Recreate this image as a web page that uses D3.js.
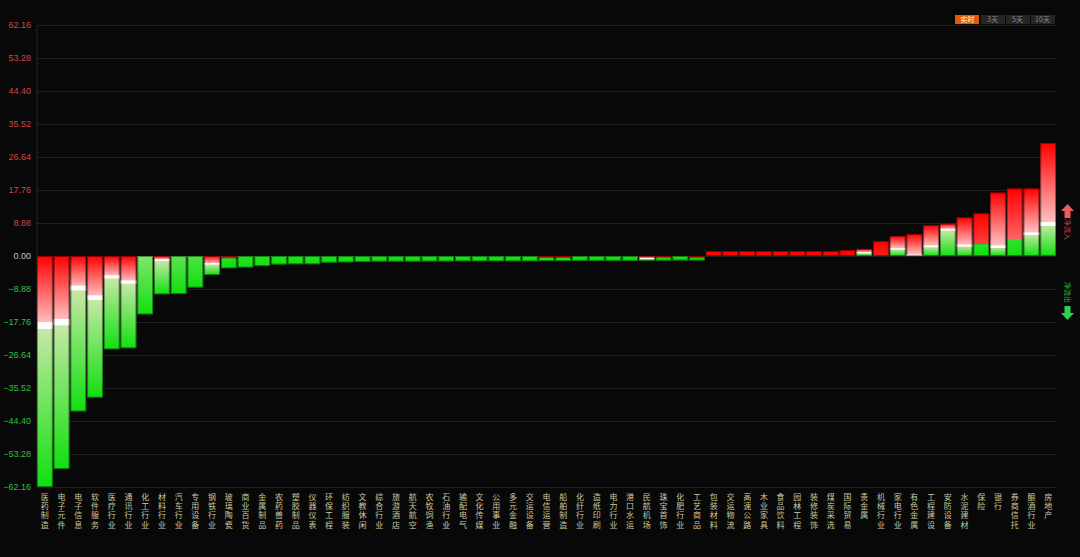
<!DOCTYPE html>
<html lang="zh">
<head>
<meta charset="utf-8">
<title>板块资金流</title>
<script src="https://d3js.org/d3.v7.min.js"></script>
<style>
  html, body { margin: 0; padding: 0; background: #080808; }
  svg { display: block; }
</style>
</head>
<body>
<div id="chart"></div>
<script>
// industries, sorted by net flow
const categories = ["医药制造","电子元件","电子信息","软件服务","医疗行业","通讯行业","化工行业","材料行业","汽车行业","专用设备",
  "钢铁行业","玻璃陶瓷","商业百货","金属制品","农药兽药","塑胶制品","仪器仪表","环保工程","纺织服装","文教休闲",
  "综合行业","旅游酒店","航天航空","农牧饲渔","石油行业","输配电气","文化传媒","公用事业","多元金融","交运设备",
  "电信运营","船舶制造","化纤行业","造纸印刷","电力行业","港口水运","民航机场","珠宝首饰","化肥行业","工艺商品",
  "包装材料","交运物流","高速公路","木业家具","食品饮料","园林工程","装修装饰","煤炭采选","国际贸易","贵金属",
  "机械行业","家电行业","有色金属","工程建设","安防设备","水泥建材","保险","银行","券商信托","酿酒行业","房地产"];

// bar value (net)
const values = [-62.16,-57.3,-41.8,-38.1,-25.1,-24.8,-15.7,-10.3,-10.2,-8.5,
  -5.1,-3.3,-3.1,-2.7,-2.3,-2.2,-2.2,-1.8,-1.7,-1.6,
  -1.5,-1.5,-1.5,-1.45,-1.45,-1.4,-1.4,-1.4,-1.4,-1.4,
  -1.35,-1.35,-1.3,-1.3,-1.3,-1.3,-1.25,-1.25,-1.2,-1.2,
  1.35,1.35,1.35,1.35,1.35,1.35,1.35,1.35,1.6,1.9,
  4.0,5.4,5.9,8.3,8.7,10.4,11.5,17.1,18.2,18.2,30.4];

// where the red part ends and the green part starts (0 = one colour only)
const splits = [-18.7,-17.8,-8.6,-11.2,-5.6,-7.0,0,-1.1,0,0,
  -2.1,-0.6,0,0,0,0,0,0,0,0,
  0,0,0,0,0,0,0,0,0,0,
  -0.45,-0.45,0,0,0,0,-0.7,-0.4,0,-0.5,
  0,0,0,0,0,0,0,0,0,0.9,
  0,1.9,0.2,2.6,7.1,2.8,3.2,2.5,4.3,6.0,8.6];

// white separator shown?
const bands = [1,1,1,1,1,1,0,1,0,0,
  1,0,0,0,0,0,0,0,0,0,
  0,0,0,0,0,0,0,0,0,0,
  0,0,0,0,0,0,1,0,0,0,
  0,0,0,0,0,0,0,0,0,1,
  0,1,1,1,1,1,0,1,0,1,1];

const yTicks = [62.16,53.28,44.40,35.52,26.64,17.76,8.88,0,-8.88,-17.76,-26.64,-35.52,-44.40,-53.28,-62.16];
const buttons = ["实时","3天","5天","10天"];

const W = 1080, H = 557;
const margin = {top: 25, right: 24, bottom: 70, left: 37};
const width = W - margin.left - margin.right,
      height = H - margin.top - margin.bottom;

const svg = d3.select("#chart").append("svg")
    .attr("width", W).attr("height", H)
    .style("background", "#080808");
const defs = svg.append("defs");

const g = svg.append("g").attr("transform", `translate(${margin.left},${margin.top})`);

const x = d3.scaleBand().domain(categories).range([0, width]).paddingInner(0.06).paddingOuter(0);
const y = d3.scaleLinear().domain([-62.16, 62.16]).range([height, 0]);

// grid
g.append("g")
  .call(d3.axisLeft(y).tickValues(yTicks).tickSize(-width).tickFormat(""))
  .call(a => a.select(".domain").remove())
  .selectAll("line").attr("stroke", "#1f1f1f").attr("stroke-width", 1);

// left axis line
g.append("line").attr("x1", 0).attr("x2", 0).attr("y1", 0).attr("y2", height)
  .attr("stroke", "#252525");

// tick labels
g.append("g").selectAll("text").data(yTicks).join("text")
  .attr("x", -6).attr("y", d => y(d)).attr("dy", "0.35em")
  .attr("text-anchor", "end")
  .style("font-family", "'Liberation Sans', Arial, sans-serif")
  .style("font-size", "9px")
  .attr("fill", d => d > 0 ? "#d84444" : d < 0 ? "#30c040" : "#c4c4c4")
  .text(d => d3.format(".2f")(d));

const RED = "#ff0000", PINK = "#ffc6c6", GREEN = "#10e010", PALE = "#cae8a8";

function grad(id, y1, y2, c1, c2) {
  const lg = defs.append("linearGradient").attr("id", id)
    .attr("gradientUnits", "userSpaceOnUse")
    .attr("x1", 0).attr("x2", 0).attr("y1", y1).attr("y2", y2);
  lg.append("stop").attr("offset", 0).attr("stop-color", c1);
  lg.append("stop").attr("offset", 1).attr("stop-color", c2);
}

const bars = g.append("g");
categories.forEach((c, i) => {
  const v = values[i], s = splits[i];
  const bx = x(c), bw = x.bandwidth();
  const top = y(Math.max(v, 0)), bot = y(Math.min(v, 0));
  let ys;
  if (v > 0) ys = s > 0 ? y(s) : y(0);      // positive: red above, green below
  else ys = s < 0 ? y(s) : y(0);            // negative: red near zero
  const redLen = ys - top, greenLen = bot - ys;

  if (redLen > 0.1) {
    const k = bands[i] ? 1 : Math.min(1, redLen / 100);
    grad("r" + i, top, ys, RED, d3.interpolateRgb(RED, PINK)(k));
    bars.append("rect").attr("x", bx).attr("y", top).attr("width", bw).attr("height", redLen)
      .attr("fill", `url(#r${i})`);
  }
  if (greenLen > 0.1) {
    const k = bands[i] ? 1 : Math.min(1, greenLen / 95);
    grad("gr" + i, ys, bot, d3.interpolateRgb(GREEN, PALE)(k), GREEN);
    bars.append("rect").attr("x", bx).attr("y", ys).attr("width", bw).attr("height", greenLen)
      .attr("fill", `url(#gr${i})`);
  }
  if (bands[i] && redLen > 0.1 && greenLen > 0.1) {
    const bh = Math.min(7, 1 + 0.025 * (bot - top));
    bars.append("rect").attr("x", bx).attr("y", Math.max(top, ys - bh / 2)).attr("width", bw)
      .attr("height", bh).attr("fill", "#ffffff");
  }
  bars.append("rect").attr("x", bx + 0.5).attr("y", top + 0.5)
    .attr("width", bw - 1).attr("height", Math.max(0, bot - top - 1))
    .attr("fill", "none").attr("stroke", "rgba(0,0,0,0.4)").attr("stroke-width", 1);
});

// category labels, one character per line
const lab = g.append("g").selectAll("text").data(categories).join("text")
  .attr("text-anchor", "middle")
  .style("font-family", "'Noto Sans CJK SC', sans-serif")
  .style("font-size", "8px")
  .attr("fill", "#c9c9a0");
lab.each(function(d) {
  const t = d3.select(this);
  Array.from(d).forEach((ch, j) => {
    t.append("tspan").attr("x", x(d) + x.bandwidth() / 2).attr("y", height + 13 + j * 9.2).text(ch);
  });
});

// period buttons
const btnW = 25, btnH = 9, btnX = 955, btnY = 15;
const bg = svg.append("g");
buttons.forEach((b, i) => {
  bg.append("rect").attr("x", btnX + i * btnW + (i ? 1 : 0)).attr("y", btnY)
    .attr("width", btnW - 1).attr("height", btnH)
    .attr("fill", i === 0 ? "#e45a00" : "#262626");
  bg.append("text").attr("x", btnX + i * btnW + btnW / 2).attr("y", btnY + btnH / 2).attr("dy", "0.35em")
    .attr("text-anchor", "middle")
    .style("font-family", "'Noto Sans CJK SC', sans-serif").style("font-size", "7px")
    .attr("fill", i === 0 ? "#ffffff" : "#8a8a8a").text(b);
});

// inflow / outflow markers on the right
const side = svg.append("g");
side.append("path").attr("d", "M1067.5,204 L1074,211 L1070.5,211 L1070.5,218 L1064.5,218 L1064.5,211 L1061,211 Z")
  .attr("fill", "#f05a5a");
side.append("text").attr("transform", "translate(1065,219) rotate(90)")
  .style("font-family", "'Noto Sans CJK SC', sans-serif").style("font-size", "7px")
  .attr("fill", "#c04040").text("净流入");
side.append("text").attr("transform", "translate(1065,282) rotate(90)")
  .style("font-family", "'Noto Sans CJK SC', sans-serif").style("font-size", "7px")
  .attr("fill", "#2fb040").text("净流出");
side.append("path").attr("d", "M1067.5,320 L1074,313 L1070.5,313 L1070.5,306 L1064.5,306 L1064.5,313 L1061,313 Z")
  .attr("fill", "#30d050");
</script>
</body>
</html>
